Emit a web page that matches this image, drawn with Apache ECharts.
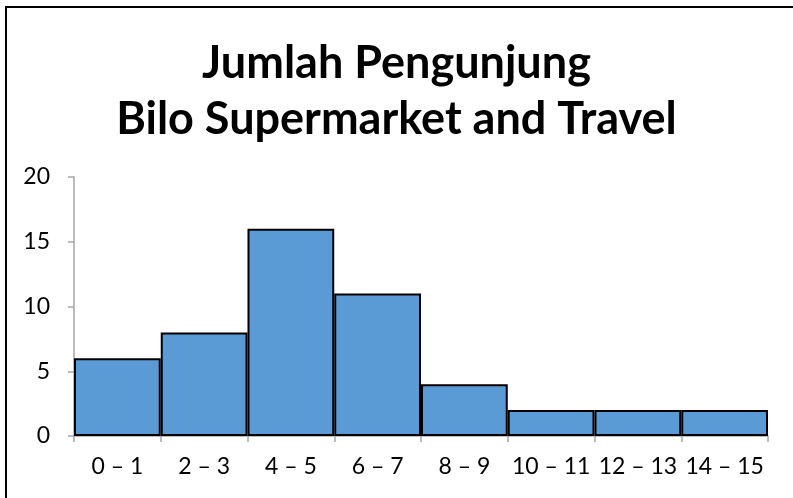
<!DOCTYPE html>
<html>
<head>
<meta charset="utf-8">
<script src="https://cdn.jsdelivr.net/npm/echarts@6/dist/echarts.min.js"></script>
<style>
  html, body { margin: 0; padding: 0; background: #fff; }
  #chart { width: 793px; height: 498px; }
</style>
</head>
<body>
<div id="chart"></div>
<script>
// Visitor counts per class interval
const categories = ['0 – 1', '2 – 3', '4 – 5', '6 – 7', '8 – 9', '10 – 11', '12 – 13', '14 – 15'];
const visitors = [6, 8, 16, 11, 4, 2, 2, 2];
const titleLines = ['Jumlah Pengunjung', 'Bilo Supermarket and Travel'];

const font = 'Lato, "Open Sans", sans-serif';
const chart = echarts.init(document.getElementById('chart'), null, { renderer: 'canvas' });

chart.setOption({
  backgroundColor: '#fff',
  animation: false,
  title: {
    text: titleLines.join('\n'),
    left: 'center',
    top: 30,
    textStyle: {
      fontFamily: font,
      fontSize: 45,
      fontWeight: 'bold',
      color: '#000',
      lineHeight: 56
    }
  },
  graphic: [{
    type: 'rect',
    shape: { x: 6, y: 7, width: 900, height: 600 },
    style: { fill: 'none', stroke: '#000', lineWidth: 2 },
    silent: true
  }],
  grid: { left: 74, right: 25, top: 177, bottom: 62 },
  xAxis: {
    type: 'category',
    data: categories,
    boundaryGap: true,
    axisLine: { lineStyle: { color: '#a6a6a6', width: 1.5 } },
    axisTick: { show: true, length: 6, lineStyle: { color: '#a6a6a6', width: 1.5 } },
    axisLabel: { color: '#000', fontFamily: font, fontSize: 23, margin: 19, interval: 0 }
  },
  yAxis: {
    type: 'value',
    min: 0,
    max: 20,
    interval: 5,
    axisLine: { show: true, lineStyle: { color: '#a6a6a6', width: 1.5 } },
    axisTick: { show: true, length: 6, lineStyle: { color: '#a6a6a6', width: 1.5 } },
    splitLine: { show: false },
    axisLabel: { color: '#000', fontFamily: font, fontSize: 23, margin: 24 }
  },
  series: [{
    type: 'bar',
    data: visitors,
    barCategoryGap: '0%',
    itemStyle: { color: '#5B9BD5', borderColor: '#000', borderWidth: 2 }
  }]
});
</script>
</body>
</html>
